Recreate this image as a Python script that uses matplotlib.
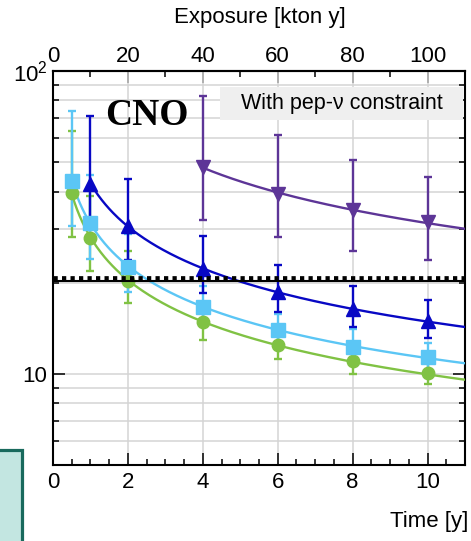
import numpy as np
import matplotlib
matplotlib.use("Agg")
import matplotlib.pyplot as plt
from matplotlib.patches import Rectangle
from matplotlib.ticker import FixedLocator, FixedFormatter, MultipleLocator, NullFormatter, LogLocator

plt.rcParams['font.family'] = ['Liberation Sans', 'DejaVu Sans']
plt.rcParams['mathtext.fontset'] = 'custom'
plt.rcParams['mathtext.rm'] = 'Liberation Sans'
plt.rcParams['mathtext.it'] = 'Liberation Sans:italic'

# ---- data: CNO sensitivity vs. run time (with pep-nu constraint) ----
t_green = [0.5, 1, 2, 4, 6, 8, 10]
green_val = [39.5, 28.1, 20.2, 14.8, 12.45, 11.04, 10.1]
green_lo = [28.2, 21.9, 17.1, 12.9, 11.2, 10.0, 9.24]
green_hi = [63.3, 38.6, 25.4, 17.0, 13.9, 12.2, 11.0]

t_cyan = [0.5, 1, 2, 4, 6, 8, 10]
cyan_val = [43.4, 31.5, 22.6, 16.6, 13.95, 12.3, 11.4]
cyan_lo = [30.7, 24.0, 18.6, 14.4, 12.2, 10.8, 10.3]
cyan_hi = [73.9, 45.3, 29.0, 19.5, 15.8, 14.1, 12.6]

t_blue = [1, 2, 4, 6, 8, 10]
blue_val = [42.5, 30.7, 22.2, 18.6, 16.4, 14.9]
blue_lo = [30.4, 23.8, 18.5, 16.0, 14.3, 13.1]
blue_hi = [71.1, 44.1, 28.5, 22.8, 19.5, 17.5]

t_purple = [4, 6, 8, 10]
purple_val = [48.2, 39.2, 34.8, 31.7]
purple_lo = [32.1, 28.4, 25.5, 23.8]
purple_hi = [82.6, 61.4, 51.0, 44.5]

reference_level = 20.2
reference_band = 20.7

x_ticks = [0, 2, 4, 6, 8, 10]
exposure_ticks = [0, 20, 40, 60, 80, 100]
y_ticks = [10, 100]
y_ticklabels = ['10', '$10^2$']

series = [
    (t_green, green_val, green_lo, green_hi, '#80c244', 'o', 9),
    (t_cyan, cyan_val, cyan_lo, cyan_hi, '#5bc6f5', 's', 10),
    (t_blue, blue_val, blue_lo, blue_hi, '#0808c4', '^', 10),
    (t_purple, purple_val, purple_lo, purple_hi, '#5d3597', 'v', 10),
]

FS = 16
W, H = 471, 541
fig = plt.figure(figsize=(W / 100, H / 100), dpi=100)
ax = fig.add_axes([53 / W, 76 / H, 412 / W, 394 / H])
ax.set_yscale('log')
ax.set_xlim(0, 11)
ax.set_ylim(5, 100)
ax.set_axisbelow(True)

for t, v, lo, hi, col, mk, ms in series:
    t = np.asarray(t, float)
    v = np.asarray(v, float)
    # smooth a/sqrt(t) + b trend through the points
    A = np.column_stack([t ** -0.5, np.ones_like(t)])
    coef, *_ = np.linalg.lstsq(A, v, rcond=None)
    tt = np.linspace(t[0], 11, 300)
    ax.plot(tt, coef[0] * tt ** -0.5 + coef[1], color=col, lw=1.7, zorder=3)
    yerr = [v - np.asarray(lo), np.asarray(hi) - v]
    ax.errorbar(t, v, yerr=yerr, fmt='none', ecolor=col, elinewidth=1.7,
                capsize=3, capthick=1.7, zorder=4)
    ax.plot(t, v, ls='none', marker=mk, ms=ms, color=col, mec=col, zorder=5)

ax.axhline(reference_level, color='black', lw=1.5, zorder=6)
ax.axhline(reference_band, color='black', lw=3.4, ls=(0, (0.9, 0.9)), zorder=6)

# ticks
ax.xaxis.set_major_locator(FixedLocator(x_ticks))
ax.xaxis.set_minor_locator(MultipleLocator(0.5))
ax.yaxis.set_major_locator(FixedLocator(y_ticks))
ax.yaxis.set_major_formatter(FixedFormatter(y_ticklabels))
ax.yaxis.set_minor_locator(LogLocator(base=10, subs=np.arange(2, 10)))
ax.yaxis.set_minor_formatter(NullFormatter())
ax.tick_params(which='both', direction='in', right=True, top=False,
               labelsize=FS, width=1.1, colors='black')
ax.tick_params(which='major', length=8.5)
ax.tick_params(which='minor', length=4.5)
ax.tick_params(axis='x', pad=5)
ax.tick_params(axis='y', pad=4)

ax.grid(axis='x', which='major', color='#d4d4d4', lw=1.1)
ax.grid(axis='y', which='both', color='#d4d4d4', lw=1.1)
for s in ax.spines.values():
    s.set_linewidth(1.5)

top = ax.secondary_xaxis('top', functions=(lambda x: x * 10, lambda e: e / 10))
top.xaxis.set_major_locator(FixedLocator(exposure_ticks))
top.xaxis.set_minor_locator(MultipleLocator(10))
top.tick_params(which='both', direction='in', labelsize=FS, width=1.1, pad=3)
top.tick_params(which='major', length=8.5)
top.tick_params(which='minor', length=4.5)
top.spines['top'].set_linewidth(1.5)

# annotation box and labels
ax.add_patch(Rectangle((0.405, 0.876), 0.59, 0.083, transform=ax.transAxes,
                       facecolor='#efefef', edgecolor='none', zorder=1))
ax.text(0.70, 0.9175, 'With pep-ν constraint', transform=ax.transAxes,
        ha='center', va='center', fontsize=FS - 0.5, zorder=2)
ax.text(0.228, 0.886, 'CNO', transform=ax.transAxes, ha='center', va='center',
        fontsize=27, fontweight='bold', family=['Liberation Serif', 'DejaVu Serif'],
        zorder=7)

fig.text(260 / W, 1 - 18 / H, 'Exposure [kton y]', ha='center', va='center', fontsize=FS)
fig.text(468 / W, 1 - 521 / H, 'Time [y]', ha='right', va='center', fontsize=FS)

# neighbouring panel edge
fig.patches.append(Rectangle((-0.05, -0.05), 0.05 + 22 / W, 0.05 + 91 / H,
                             transform=fig.transFigure, facecolor='#c3e6e1',
                             edgecolor='#196a5d', lw=2.3))

fig.savefig('out.png', dpi=100)
